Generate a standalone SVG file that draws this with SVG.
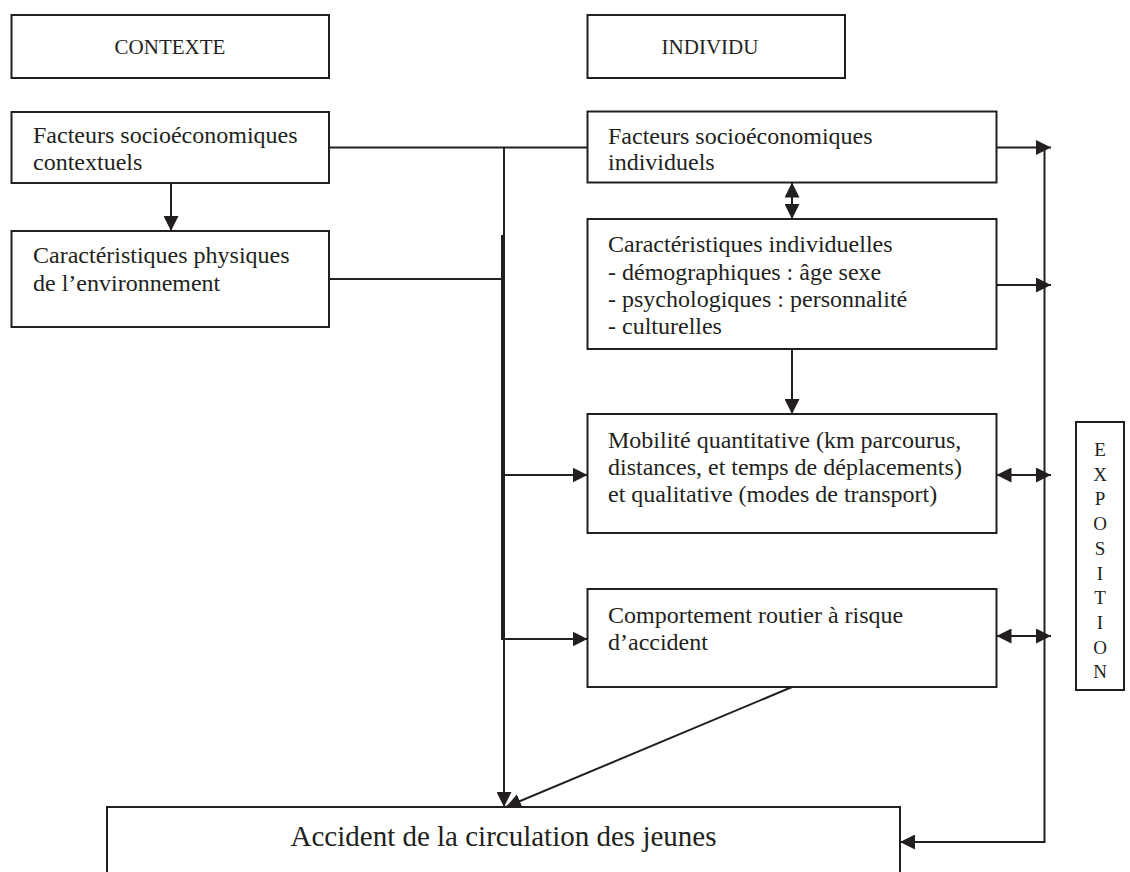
<svg xmlns="http://www.w3.org/2000/svg" width="1130" height="872" viewBox="0 0 1130 872">
<style>
.box{fill:#fff;stroke:#231f20;stroke-width:2}
.t{font-family:"Liberation Serif","Times New Roman",serif;font-size:24px;fill:#231f20}
.h{font-family:"Liberation Serif","Times New Roman",serif;font-size:21px;fill:#231f20;text-anchor:middle}
.exp{font-family:"Liberation Serif","Times New Roman",serif;font-size:19px;fill:#231f20;text-anchor:middle}
.ln{fill:none;stroke:#231f20;stroke-width:2}
</style>
<defs>
<marker id="ah" markerUnits="userSpaceOnUse" markerWidth="15" markerHeight="15" refX="15" refY="7.5" orient="auto-start-reverse">
<path d="M0,0 L15,7.5 L0,15 z" fill="#231f20"/>
</marker>
</defs>
<rect width="1130" height="872" fill="#fff"/>
<g id="contexte"><rect class="box" x="11.5" y="15" width="317.5" height="63"/><text class="h" x="170" y="54">CONTEXTE</text></g>
<g id="individu"><rect class="box" x="587.5" y="15" width="257.5" height="63"/><text class="h" x="710" y="54">INDIVIDU</text></g>
<g id="fsc"><rect class="box" x="11.5" y="112" width="317.5" height="71"/><text class="t" x="33" y="143"><tspan x="33">Facteurs socioéconomiques</tspan><tspan x="33" dy="27">contextuels</tspan></text></g>
<g id="cpe"><rect class="box" x="11.5" y="231" width="317.5" height="96"/><text class="t" x="33" y="263"><tspan x="33">Caractéristiques physiques</tspan><tspan x="33" dy="28">de l’environnement</tspan></text></g>
<g id="fsi"><rect class="box" x="587.5" y="111.5" width="409" height="71"/><text class="t" x="608" y="144"><tspan x="608">Facteurs socioéconomiques</tspan><tspan x="608" dy="26">individuels</tspan></text></g>
<g id="ci"><rect class="box" x="587.5" y="219" width="409" height="130"/><text class="t" x="608" y="252"><tspan x="608">Caractéristiques individuelles</tspan><tspan x="608" dy="27.5">- démographiques : âge sexe</tspan><tspan x="608" dy="27.5">- psychologiques : personnalité</tspan><tspan x="608" dy="27">- culturelles</tspan></text></g>
<g id="mob"><rect class="box" x="587.5" y="414" width="409" height="119"/><text class="t" x="608" y="448"><tspan x="608">Mobilité quantitative (km parcourus,</tspan><tspan x="608" dy="27">distances, et temps de déplacements)</tspan><tspan x="608" dy="27">et qualitative (modes de transport)</tspan></text></g>
<g id="comp"><rect class="box" x="587.5" y="589" width="409" height="98"/><text class="t" x="608" y="623"><tspan x="608">Comportement routier à risque</tspan><tspan x="608" dy="27">d’accident</tspan></text></g>
<g id="exposition"><rect class="box" x="1076" y="422" width="48" height="268"/>
<text class="exp" x="1100" y="456">E</text><text class="exp" x="1100" y="480.7">X</text><text class="exp" x="1100" y="505.4">P</text><text class="exp" x="1100" y="530.1">O</text><text class="exp" x="1100" y="554.8">S</text><text class="exp" x="1100" y="579.5">I</text><text class="exp" x="1100" y="604.2">T</text><text class="exp" x="1100" y="628.9">I</text><text class="exp" x="1100" y="653.6">O</text><text class="exp" x="1100" y="678.3">N</text></g>
<g id="accident"><rect class="box" x="107" y="807" width="793" height="80"/><text class="t" x="503.5" y="846" text-anchor="middle" style="font-size:29px">Accident de la circulation des jeunes</text></g>
<g id="connectors">
<path class="ln" d="M329,147.5 H587.5"/>
<path class="ln" d="M504,147.5 V807" marker-end="url(#ah)"/>
<path class="ln" d="M502,235 V640"/>
<path class="ln" d="M329,279 H503"/>
<path class="ln" d="M502,475 H587.5" marker-end="url(#ah)"/>
<path class="ln" d="M502,639 H587.5" marker-end="url(#ah)"/>
<path class="ln" d="M171,183 V231" marker-end="url(#ah)"/>
<path class="ln" d="M792,182.5 V219" marker-start="url(#ah)" marker-end="url(#ah)"/>
<path class="ln" d="M792,349 V414" marker-end="url(#ah)"/>
<path class="ln" d="M996.5,147.5 H1051" marker-end="url(#ah)"/>
<path class="ln" d="M996.5,285 H1051" marker-end="url(#ah)"/>
<path class="ln" d="M996.5,475 H1051" marker-start="url(#ah)" marker-end="url(#ah)"/>
<path class="ln" d="M996.5,636 H1051" marker-start="url(#ah)" marker-end="url(#ah)"/>
<path class="ln" d="M1044.5,147.5 V842 H900" marker-end="url(#ah)"/>
<path class="ln" d="M792,687 L506,807" marker-end="url(#ah)"/>
</g>
</svg>
